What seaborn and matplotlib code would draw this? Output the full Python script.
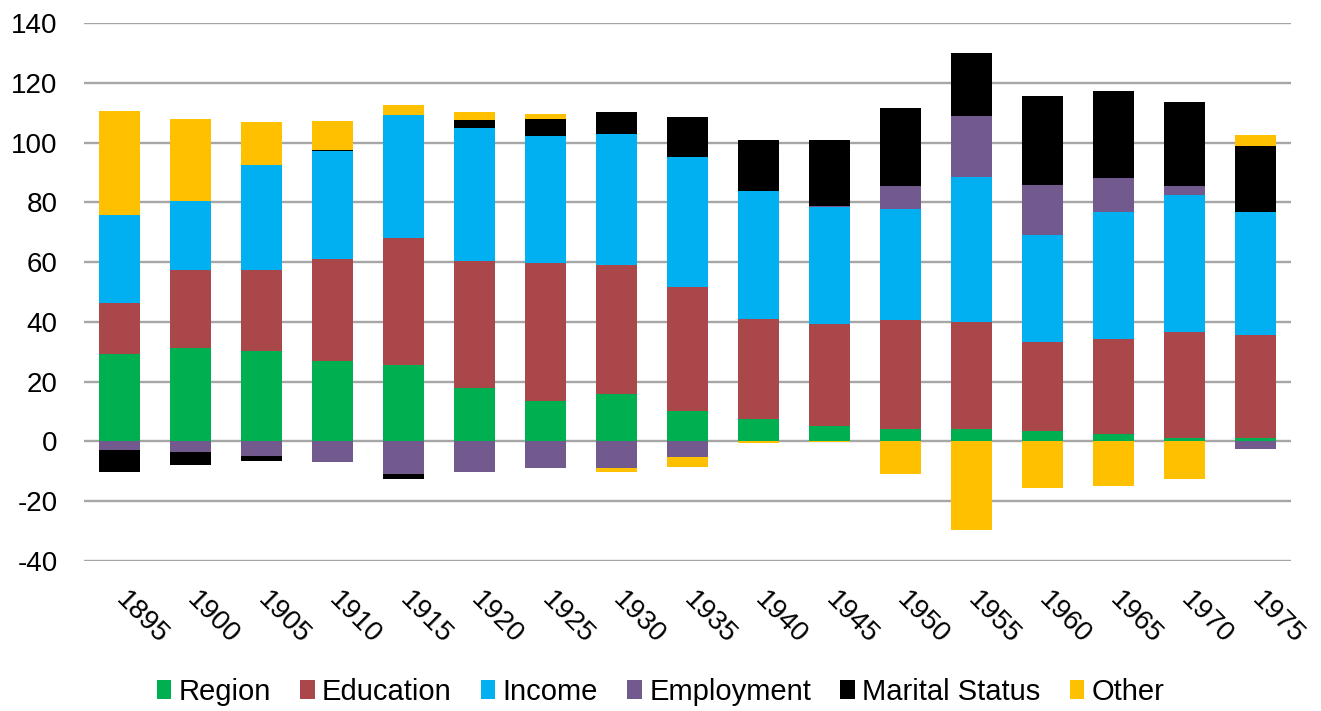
import numpy as np
import pandas as pd
import matplotlib
matplotlib.use("Agg")
import matplotlib.pyplot as plt
from matplotlib.patches import Patch
import seaborn as sns

years = ["1895", "1900", "1905", "1910", "1915", "1920", "1925", "1930", "1935",
         "1940", "1945", "1950", "1955", "1960", "1965", "1970", "1975"]

region = [29.2, 31.1, 30.2, 27.0, 25.7, 18.0, 13.5, 15.7, 10.2,
          7.5, 5.3, 4.2, 4.2, 3.5, 2.5, 1.0, 1.0]
education = [17.0, 26.3, 27.2, 34.1, 42.2, 42.2, 46.3, 43.2, 41.3,
             33.6, 34.1, 36.5, 35.6, 29.9, 31.7, 35.6, 34.7]
income = [29.4, 23.2, 35.1, 36.0, 41.4, 44.6, 42.3, 44.1, 43.8,
          42.7, 39.1, 37.2, 48.6, 35.6, 42.5, 45.9, 40.9]
employment = [-3.0, -3.4, -4.9, -7.0, -10.8, -10.1, -8.9, -8.8, -5.1,
              0.0, 0.4, 7.4, 20.5, 16.9, 11.3, 2.8, -2.4]
marital = [-7.1, -4.5, -1.7, 0.5, -1.8, 2.8, 5.9, 7.3, 13.2,
           16.9, 21.8, 26.3, 21.0, 29.8, 29.2, 28.2, 22.4]
other = [35.1, 27.3, 14.5, 9.5, 3.3, 2.7, 1.5, -1.3, -3.3,
         -0.5, -0.2, -11.0, -29.8, -15.7, -14.8, -12.6, 3.6]

series = ["Region", "Education", "Income", "Employment", "Marital Status", "Other"]
colors = ["#00B050", "#A9474A", "#00B0F0", "#725A8F", "#000000", "#FFC000"]
values = np.array([region, education, income, employment, marital, other])

# Positive parts stack upward from zero, negative parts stack downward.
pos_cum = np.cumsum(np.clip(values, 0, None), axis=0)
neg_cum = np.cumsum(np.clip(values, None, 0), axis=0)

sns.set_style("white")
plt.rcParams["font.family"] = ["Liberation Sans", "DejaVu Sans"]
plt.rcParams["axes.unicode_minus"] = False
plt.rcParams["text.color"] = "black"

fig = plt.figure(figsize=(13.21, 7.11), dpi=100)
ax = fig.add_axes([0.0636, 0.211, 0.9137, 0.7567])

# Draw cumulative totals from the outermost layer inward so each inner layer covers the rest.
for k in range(len(series) - 1, -1, -1):
    df_pos = pd.DataFrame({"year": years, "value": pos_cum[k]})
    sns.barplot(data=df_pos, x="year", y="value", order=years, color=colors[k],
                saturation=1, width=0.57, errorbar=None, linewidth=0, ax=ax)
    df_neg = pd.DataFrame({"year": years, "value": neg_cum[k]})
    sns.barplot(data=df_neg, x="year", y="value", order=years, color=colors[k],
                saturation=1, width=0.57, errorbar=None, linewidth=0, ax=ax)

ax.set_ylim(-40, 140)
ax.set_xlim(-0.5, len(years) - 0.5)
ax.set_yticks(np.arange(-40, 141, 20))
ax.yaxis.grid(True, color="#A6A6A6", linewidth=1.7)
ax.set_axisbelow(True)
for s in ax.spines.values():
    s.set_visible(False)
ax.set_xlabel("")
ax.set_ylabel("")
ax.tick_params(axis="y", length=0, pad=19, labelsize=20, labelcolor="black")
ax.tick_params(axis="x", length=0, pad=25, labelsize=20, labelcolor="black")
for lbl in ax.get_xticklabels():
    lbl.set_rotation(-45)
    lbl.set_ha("left")
    lbl.set_va("center")
    lbl.set_rotation_mode("anchor")

handles = [Patch(facecolor=c, edgecolor="none", label=s) for s, c in zip(series, colors)]
fig.legend(handles=handles, loc="center", bbox_to_anchor=(0.5, 0.027), ncol=6,
           frameon=False, fontsize=21, handlelength=0.5, handleheight=0.65,
           handletextpad=0.25, columnspacing=1.0, borderaxespad=0,
           labelcolor="black")

fig.savefig("out.png", dpi=100)
